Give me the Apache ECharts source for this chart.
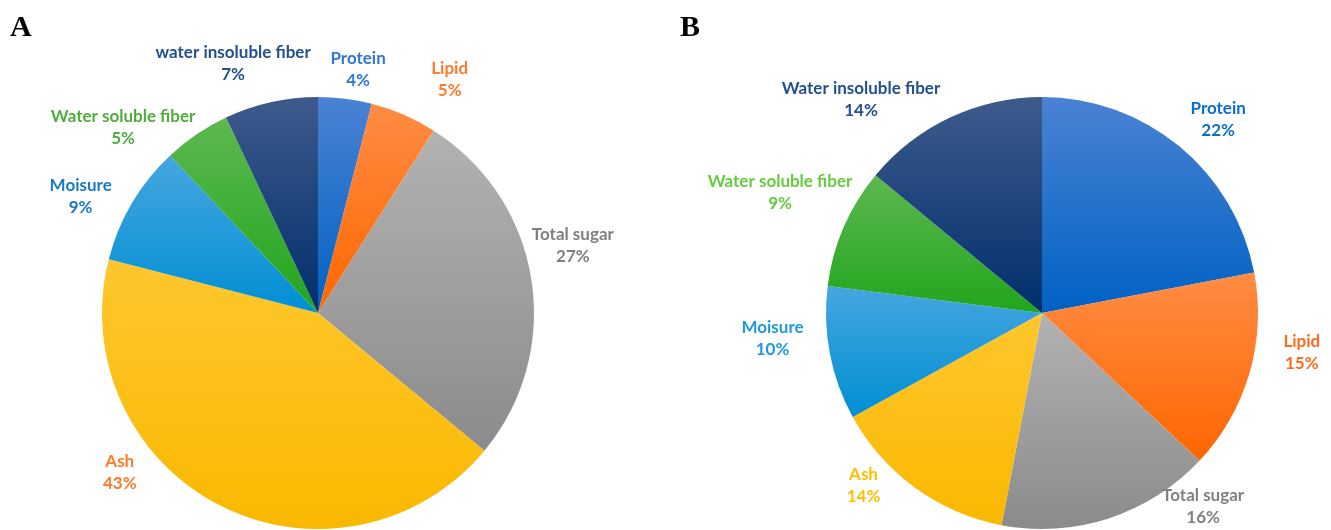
<!DOCTYPE html>
<html>
<head>
<meta charset="utf-8">
<script src="https://cdn.jsdelivr.net/npm/echarts@6/dist/echarts.min.js"></script>
<style>
  html, body { margin: 0; padding: 0; background: #ffffff; }
  #chart { width: 1331px; height: 530px; }
</style>
</head>
<body>
<div id="chart"></div>
<script>
// Composition of sample A and sample B (percent)
const categoriesA = ['Protein', 'Lipid', 'Total sugar', 'Ash', 'Moisure', 'Water soluble fiber', 'water insoluble fiber'];
const valuesA = [4, 5, 27, 43, 9, 5, 7];

const categoriesB = ['Protein', 'Lipid', 'Total sugar', 'Ash', 'Moisure', 'Water soluble fiber', 'Water insoluble fiber'];
const valuesB = [22, 15, 16, 14, 10, 9, 14];

const panelLetters = ['A', 'B'];

// Slice fill: top and bottom colour of each slice's vertical gradient
const sliceGradients = [
  ['#4a82d3', '#0062c4'],  // Protein
  ['#ff8c44', '#ff6600'],  // Lipid
  ['#b2b2b2', '#8b8b8b'],  // Total sugar
  ['#ffc72e', '#f9b800'],  // Ash
  ['#46a6e0', '#008fd3'],  // Moisure
  ['#5db850', '#21a51c'],  // Water soluble fiber
  ['#3e5a8c', '#002f6c']   // Water insoluble fiber
];

// Label text colours
const labelColorsA = ['#3277d2', '#ff7b2b', '#7f7f7f', '#ff7b2b', '#1a7bc5', '#4dae3a', '#22508e'];
const labelColorsB = ['#0b6fc6', '#ff6b1c', '#808080', '#ffc000', '#1f9ae0', '#66cc3f', '#22508e'];

// Nudges of each label away from its default outside anchor [dx, dy]
const labelShiftA = [[8, 10], [30, 1], [2, -27], [-82, -69], [-17, 14], [-51, 26], [-29, 0]];
const labelShiftB = [[13, 4], [14, -32], [82, -50], [-28, -35], [-18, -22], [-27, -19], [-72, 18]];

function gradient(stops) {
  return {
    type: 'linear', x: 0, y: 0, x2: 0, y2: 1,
    colorStops: [{ offset: 0, color: stops[0] }, { offset: 1, color: stops[1] }]
  };
}

function buildData(names, values, labelColors) {
  return names.map((name, i) => ({
    name: name,
    value: values[i],
    itemStyle: { color: gradient(sliceGradients[i]) },
    label: { color: labelColors[i] }
  }));
}

function pieSeries(names, values, labelColors, shifts, center) {
  return {
    type: 'pie',
    center: center,
    radius: 216,
    startAngle: 90,
    clockwise: true,
    avoidLabelOverlap: false,
    silent: true,
    animation: false,
    itemStyle: { borderWidth: 0 },
    label: {
      show: true,
      position: 'outside',
      formatter: '{b}\n{c}%',
      fontFamily: 'Lato',
      fontWeight: 'bold',
      fontSize: 17,
      lineHeight: 22,
      distanceToLabelLine: 0
    },
    labelLine: { show: false, length: 40, length2: 0 },
    labelLayout: function (params) {
      const s = shifts[params.dataIndex];
      return { dx: s[0], dy: s[1], align: 'center', verticalAlign: 'middle' };
    },
    emphasis: { disabled: true },
    data: buildData(names, values, labelColors)
  };
}

const chart = echarts.init(document.getElementById('chart'), null, { renderer: 'canvas' });

chart.setOption({
  backgroundColor: '#ffffff',
  animation: false,
  title: [
    {
      text: panelLetters[0], left: 5, top: 8,
      textStyle: { fontFamily: 'Liberation Serif', fontWeight: 'bold', fontSize: 30, color: '#000000' }
    },
    {
      text: panelLetters[1], left: 675, top: 8,
      textStyle: { fontFamily: 'Liberation Serif', fontWeight: 'bold', fontSize: 30, color: '#000000' }
    }
  ],
  series: [
    pieSeries(categoriesA, valuesA, labelColorsA, labelShiftA, [318, 313]),
    pieSeries(categoriesB, valuesB, labelColorsB, labelShiftB, [1042, 313])
  ]
});
</script>
</body>
</html>
